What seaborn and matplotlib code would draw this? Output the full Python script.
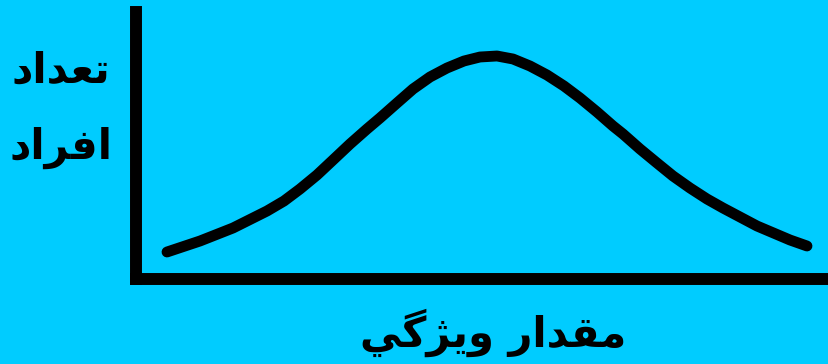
import pandas as pd
import numpy as np
import matplotlib
matplotlib.use("Agg")
import matplotlib.pyplot as plt
import seaborn as sns

# values (feature value vs. number of people)
feature_value = [31, 64, 97, 131, 148, 164, 181, 197, 214, 231, 244, 261, 277, 294, 311, 328, 344,
                 361, 377, 394, 411, 428, 444, 461, 477, 487, 504, 521, 537, 554, 571, 587, 621, 654, 671]
people_count = [27, 38, 51, 68, 78, 90, 104, 119, 135, 150, 161, 176, 190, 202, 211, 218, 222,
                 223, 220, 213, 204, 193, 181, 167, 153, 145, 130, 116, 103, 91, 80, 71, 53, 39, 33]

# Persian labels, written in shaped presentation forms (visual order) so matplotlib joins them
y_label_top = "\uFEA9\uFE8D\uFEAA\uFECC\uFE97"          # تعداد
y_label_bottom = "\uFEA9\uFE8D\uFEAE\uFED3\uFE8D"       # افراد
x_label = "\uFEF2\uFB94\uFB8B\uFBFE\uFEED \uFEAD\uFE8D\uFEAA\uFED8\uFEE3"  # مقدار ویژگي

bg = "#00CCFF"

sns.set_style("white", {"axes.facecolor": bg, "figure.facecolor": bg})
plt.rcParams['font.family'] = ['DejaVu Sans']

df = pd.DataFrame({"value": feature_value, "count": people_count})

fig = plt.figure(figsize=(8.29, 3.64), dpi=100)
ax = fig.add_axes([136 / 829, 85 / 364, 693 / 829, 267 / 364])
sns.lineplot(data=df, x="value", y="count", ax=ax, color="black", linewidth=7.8,
             solid_capstyle="round", solid_joinstyle="round")

ax.set_xlim(0, 693)
ax.set_ylim(0, 267)
ax.set_xticks([])
ax.set_yticks([])
ax.set_xlabel("")
ax.set_ylabel("")
for side in ["top", "right"]:
    ax.spines[side].set_visible(False)
for side in ["left", "bottom"]:
    ax.spines[side].set_linewidth(8.6)
    ax.spines[side].set_color("black")
    ax.spines[side].set_capstyle("projecting")

fig.text(61 / 829, 1 - 70 / 364, y_label_top, ha="center", va="center",
         fontsize=30, fontweight="bold", color="black")
fig.text(61 / 829, 1 - 148 / 364, y_label_bottom, ha="center", va="center",
         fontsize=30, fontweight="bold", color="black")
fig.text(493 / 829, 1 - 333 / 364, x_label, ha="center", va="center",
         fontsize=30, fontweight="bold", color="black")

fig.savefig("out.png", dpi=100, facecolor=bg)
